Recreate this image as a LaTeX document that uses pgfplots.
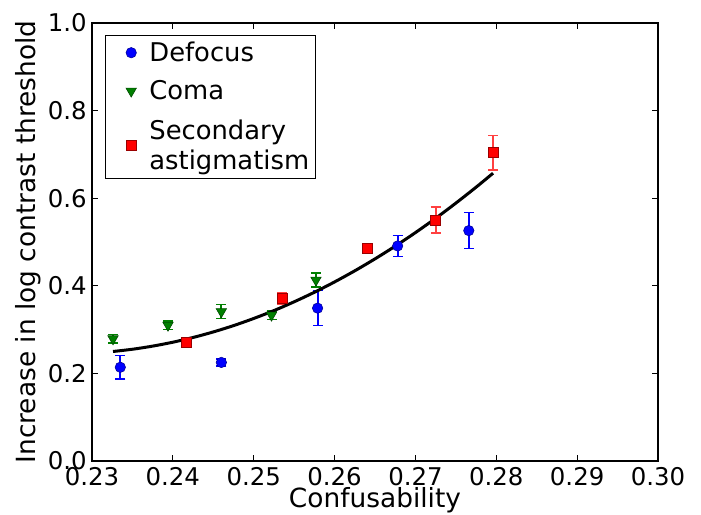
\documentclass[border=0pt]{standalone}
\usepackage{fontspec}
\setmainfont{DejaVu Sans}
\usepackage{pgfplots}
\pgfplotsset{compat=1.18}
\definecolor{mblue}{rgb}{0,0,1}
\definecolor{mgreen}{rgb}{0,0.5,0}
\definecolor{mred}{rgb}{1,0,0}
\pgfplotsset{legmark/.style={legend image code/.code={\path (-11.5pt,0pt) (6.8pt,0pt); \draw[##1] plot coordinates {(0pt,0pt)};}}}
\begin{document}
\begin{tikzpicture}
\useasboundingbox (-46pt,-26.5pt) rectangle (304.5pt,230.5pt);
\begin{axis}[
  at={(0,0)}, anchor=south west,
  scale only axis, width=283pt, height=219pt,
  xmin=0.23, xmax=0.30, ymin=0, ymax=1.0,
  xtick={0.23,0.24,0.25,0.26,0.27,0.28,0.29,0.30},
  ytick={0,0.2,0.4,0.6,0.8,1.0},
  scaled ticks=false,
  tick align=inside, major tick length=3pt,
  tick style={black, line width=0.5pt},
  axis line style={line width=0.7pt},
  /pgf/number format/assume math mode=true,
  xticklabel style={/pgf/number format/fixed, /pgf/number format/fixed zerofill, /pgf/number format/precision=2, inner ysep=3pt},
  yticklabel style={/pgf/number format/fixed, /pgf/number format/fixed zerofill, /pgf/number format/precision=1, inner xsep=2.5pt},
  tick label style={font=\fontsize{12.2}{14}\selectfont},
  label style={font=\fontsize{13.2}{16}\selectfont},
  xlabel={Confusability},
  ylabel={Increase in log contrast threshold},
  xlabel style={at={(rel axis cs:0.5,-0.1073)}, anchor=base},
  ylabel style={at={(rel axis cs:-0.0901,0.5)}, anchor=south, inner sep=0pt},
  legend cell align=left,
  legend style={at={(rel axis cs:0.023,0.973)}, anchor=north west, draw=black, line width=0.6pt,
    font=\fontsize{12.9}{15}\selectfont, inner xsep=1pt, inner ysep=1pt, row sep=4pt},
]
\addplot[only marks, legmark, mark=*, mark size=2.6pt, color=mblue,
  mark options={fill=mblue, draw=black!40!mblue, line width=0.3pt},
  error bars/.cd, y dir=both, y explicit,
  error bar style={line width=1pt, mblue},
  error mark options={rotate=90, mark size=2.5pt, line width=0.8pt, mblue}]
coordinates {
(0.2335,0.214) +- (0,0.027)
(0.2460,0.225) +- (0,0.008)
(0.2579,0.349) +- (0,0.040)
(0.2678,0.491) +- (0,0.024)
(0.2766,0.526) +- (0,0.041)
};
\addlegendentry{Defocus}
\addplot[only marks, legmark, mark=triangle*, mark size=3pt, color=mgreen,
  mark options={rotate=180, fill=mgreen, draw=black!40!mgreen, line width=0.3pt},
  error bars/.cd, y dir=both, y explicit,
  error bar style={line width=1pt, mgreen},
  error mark options={rotate=90, mark size=2.5pt, line width=0.8pt, mgreen}]
coordinates {
(0.2326,0.279) +- (0,0.010)
(0.2394,0.310) +- (0,0.010)
(0.2460,0.341) +- (0,0.016)
(0.2522,0.333) +- (0,0.010)
(0.2577,0.413) +- (0,0.016)
};
\addlegendentry{Coma}
\addplot[only marks, legmark, mark=square*, mark size=2.5pt, color=mred,
  mark options={fill=mred, draw=black!40!mred, line width=0.3pt},
  error bars/.cd, y dir=both, y explicit,
  error bar style={line width=1pt, mred!75},
  error mark options={rotate=90, mark size=2.5pt, line width=0.8pt, mred!75}]
coordinates {
(0.2417,0.271) +- (0,0.008)
(0.2535,0.371) +- (0,0.012)
(0.2640,0.486) +- (0,0.008)
(0.2725,0.550) +- (0,0.030)
(0.2796,0.704) +- (0,0.039)
};
\addlegendentry{\begin{tabular}[b]{@{}l@{}}Secondary\\astigmatism\end{tabular}}
\addplot[black, line width=1.5pt, smooth] coordinates {
(0.2326,0.2500) (0.2351,0.2554) (0.2376,0.2626) (0.2401,0.2716) (0.2426,0.2825)
(0.2451,0.2952) (0.2476,0.3097) (0.2501,0.3261) (0.2526,0.3442) (0.2551,0.3643)
(0.2576,0.3861) (0.2601,0.4098) (0.2626,0.4353) (0.2651,0.4626) (0.2676,0.4917)
(0.2701,0.5227) (0.2726,0.5555) (0.2751,0.5902) (0.2776,0.6266) (0.2796,0.6571)
};
\end{axis}
\end{tikzpicture}
\end{document}
